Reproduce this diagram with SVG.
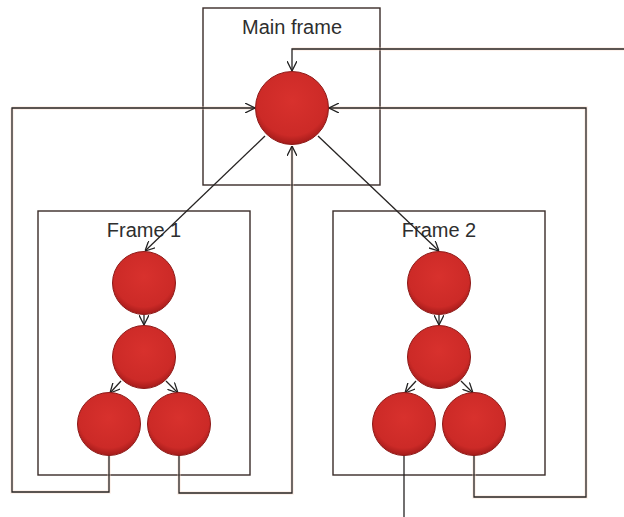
<svg xmlns="http://www.w3.org/2000/svg" width="624" height="517" viewBox="0 0 624 517">
<defs>
<radialGradient id="ball" cx="0.5" cy="0.4" r="0.6">
<stop offset="0" stop-color="#d8312d"/>
<stop offset="0.8" stop-color="#cc2a27"/>
<stop offset="1" stop-color="#a41b1a"/>
</radialGradient>
<marker id="arr" viewBox="0 0 10 10" refX="10" refY="5" markerWidth="10" markerHeight="10" markerUnits="userSpaceOnUse" orient="auto">
<path d="M0,0 L10,5 L0,10" fill="none" stroke="#222" stroke-width="1.3"/>
</marker>
</defs>
<style>
.frame{fill:none;stroke:#3a2c28;stroke-width:1.4}
.ln{fill:none;stroke:#262322;stroke-width:1.3}
.glow{fill:none;stroke:#f8d6c8;stroke-width:3.5;opacity:0.45}
.ball{fill:url(#ball);stroke:#8e1a18;stroke-width:1}
.lbl{font-family:"Liberation Sans",Arial,sans-serif;font-size:20px;fill:#2e2e2e;text-anchor:middle}
</style>
<rect width="624" height="517" fill="#fff"/>
<g id="main-frame">
<rect class="frame" x="203" y="8" width="177" height="177"/>
<text class="lbl" x="292" y="34">Main frame</text>
</g>
<g id="frame1">
<rect class="frame" x="38" y="211" width="212" height="264"/>
<text class="lbl" x="144" y="237">Frame 1</text>
</g>
<g id="frame2">
<rect class="frame" x="333" y="211" width="212" height="264"/>
<text class="lbl" x="439" y="237">Frame 2</text>
</g>
<g id="connectors">
<path class="glow" d="M624,49 H292 M12,108 H255 M328,108 H586 V497 H474 V456 M12,108 V492 H109 V456 M292,146 V493 H179 V456"/>
<path class="ln" d="M624,49 H292 V71" marker-end="url(#arr)"/>
<path class="ln" d="M109,455 V492 H12 V108 H255" marker-end="url(#arr)"/>
<path class="ln" d="M474,455 V497 H586 V108 H329" marker-end="url(#arr)"/>
<path class="ln" d="M179,455 V493 H292 V146" marker-end="url(#arr)"/>
<path class="ln" d="M404,455 V517"/>
<path class="ln" d="M265,136 L145,251" marker-end="url(#arr)"/>
<path class="ln" d="M318,136 L439,251" marker-end="url(#arr)"/>
<path class="ln" d="M144,315 V325" marker-end="url(#arr)"/>
<path class="ln" d="M121,381 L110,393" marker-end="url(#arr)"/>
<path class="ln" d="M166,381 L178,393" marker-end="url(#arr)"/>
<path class="ln" d="M439,315 V325" marker-end="url(#arr)"/>
<path class="ln" d="M416,381 L405,393" marker-end="url(#arr)"/>
<path class="ln" d="M461,381 L473,393" marker-end="url(#arr)"/>
</g>
<g id="main-node"><circle class="ball" cx="292" cy="108" r="36.5"/></g>
<g id="f1-n1"><circle class="ball" cx="144" cy="283" r="31.5"/></g>
<g id="f1-n2"><circle class="ball" cx="144" cy="357" r="31.5"/></g>
<g id="f1-n3"><circle class="ball" cx="109" cy="424" r="31.5"/></g>
<g id="f1-n4"><circle class="ball" cx="179" cy="424" r="31.5"/></g>
<g id="f2-n1"><circle class="ball" cx="439" cy="283" r="31.5"/></g>
<g id="f2-n2"><circle class="ball" cx="439" cy="357" r="31.5"/></g>
<g id="f2-n3"><circle class="ball" cx="404" cy="424" r="31.5"/></g>
<g id="f2-n4"><circle class="ball" cx="474" cy="424" r="31.5"/></g>
</svg>
